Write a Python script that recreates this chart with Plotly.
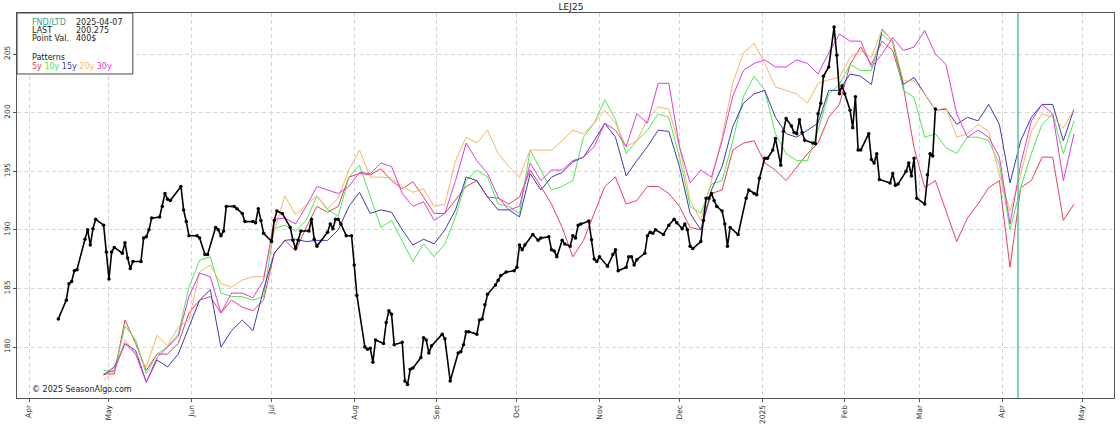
import pandas as pd
import plotly.graph_objects as go

# actual LEJ25 closes (black)
actual_dates = [
    "2024-04-12", "2024-04-15", "2024-04-16", "2024-04-17", "2024-04-18", "2024-04-19",
    "2024-04-22", "2024-04-23", "2024-04-24", "2024-04-25", "2024-04-26", "2024-04-29",
    "2024-04-30", "2024-05-01", "2024-05-02", "2024-05-03", "2024-05-06", "2024-05-07",
    "2024-05-08", "2024-05-09", "2024-05-10", "2024-05-13", "2024-05-14", "2024-05-15",
    "2024-05-16", "2024-05-17", "2024-05-20", "2024-05-21", "2024-05-22", "2024-05-23",
    "2024-05-24", "2024-05-28", "2024-05-29", "2024-05-30", "2024-05-31", "2024-06-03",
    "2024-06-04", "2024-06-06", "2024-06-07", "2024-06-10", "2024-06-11", "2024-06-12",
    "2024-06-13", "2024-06-14", "2024-06-17", "2024-06-18", "2024-06-20", "2024-06-21",
    "2024-06-24", "2024-06-25", "2024-06-26", "2024-06-27", "2024-06-28", "2024-07-01",
    "2024-07-02", "2024-07-03", "2024-07-05", "2024-07-08", "2024-07-09", "2024-07-10",
    "2024-07-11", "2024-07-12", "2024-07-15", "2024-07-16", "2024-07-17", "2024-07-18",
    "2024-07-22", "2024-07-23", "2024-07-24", "2024-07-25", "2024-07-26", "2024-07-27",
    "2024-07-29", "2024-07-31", "2024-08-01", "2024-08-02", "2024-08-05", "2024-08-06",
    "2024-08-07", "2024-08-08", "2024-08-09", "2024-08-12", "2024-08-13", "2024-08-14",
    "2024-08-15", "2024-08-16", "2024-08-19", "2024-08-20", "2024-08-21", "2024-08-22",
    "2024-08-23", "2024-08-26", "2024-08-27", "2024-08-28", "2024-08-29", "2024-08-30",
    "2024-09-03", "2024-09-04", "2024-09-06", "2024-09-09", "2024-09-10", "2024-09-11",
    "2024-09-12", "2024-09-13", "2024-09-16", "2024-09-17", "2024-09-18", "2024-09-19",
    "2024-09-20", "2024-09-23", "2024-09-24", "2024-09-25", "2024-09-27", "2024-09-30",
    "2024-10-01", "2024-10-02", "2024-10-03", "2024-10-04", "2024-10-07", "2024-10-09",
    "2024-10-10", "2024-10-13", "2024-10-14", "2024-10-15", "2024-10-16", "2024-10-18",
    "2024-10-19", "2024-10-21", "2024-10-22", "2024-10-23", "2024-10-24", "2024-10-25",
    "2024-10-28", "2024-10-29", "2024-10-30", "2024-10-31", "2024-11-01", "2024-11-04",
    "2024-11-06", "2024-11-07", "2024-11-08", "2024-11-11", "2024-11-12", "2024-11-13",
    "2024-11-14", "2024-11-15", "2024-11-18", "2024-11-19", "2024-11-20", "2024-11-21",
    "2024-11-22", "2024-11-25", "2024-11-27", "2024-11-29", "2024-11-30", "2024-12-02",
    "2024-12-03", "2024-12-04", "2024-12-05", "2024-12-06", "2024-12-09", "2024-12-10",
    "2024-12-11", "2024-12-12", "2024-12-13", "2024-12-14", "2024-12-15", "2024-12-17",
    "2024-12-18", "2024-12-19", "2024-12-20", "2024-12-23", "2024-12-26", "2024-12-27",
    "2024-12-29", "2024-12-30", "2024-12-31", "2025-01-02", "2025-01-03", "2025-01-05",
    "2025-01-06", "2025-01-08", "2025-01-09", "2025-01-10", "2025-01-12", "2025-01-13",
    "2025-01-14", "2025-01-15", "2025-01-16", "2025-01-17", "2025-01-20", "2025-01-21",
    "2025-01-22", "2025-01-23", "2025-01-24", "2025-01-26", "2025-01-28", "2025-01-29",
    "2025-01-30", "2025-01-31", "2025-02-01", "2025-02-03", "2025-02-04", "2025-02-05",
    "2025-02-06", "2025-02-07", "2025-02-10", "2025-02-11", "2025-02-12", "2025-02-13",
    "2025-02-14", "2025-02-18", "2025-02-19", "2025-02-20", "2025-02-21", "2025-02-24",
    "2025-02-25", "2025-02-26", "2025-02-27", "2025-02-28", "2025-03-03", "2025-03-04",
    "2025-03-05", "2025-03-06", "2025-03-07",
]
actual_close = [
    182.4, 184.0, 185.4, 185.6, 186.5, 186.6,
    189.2, 190.0, 188.7, 190.1, 190.9, 190.4,
    188.1, 185.8, 188.1, 188.5, 188.0, 188.9,
    187.6, 186.7, 187.3, 187.3, 189.3, 189.4,
    190.0, 191.0, 191.1, 192.0, 193.1, 192.6,
    192.5, 193.7, 191.7, 190.7, 189.5, 189.5,
    189.3, 187.9, 187.9, 190.2, 190.0, 189.5,
    189.9, 192.0, 192.0, 191.8, 191.4, 190.7,
    190.7, 190.6, 191.8, 190.8, 189.7, 189.0,
    190.8, 191.6, 191.4, 190.2, 189.1, 188.4,
    189.1, 189.9, 189.9, 190.9, 189.2, 188.6,
    189.8, 190.5, 190.1, 190.9, 190.9, 190.5,
    189.5, 189.5, 187.0, 184.4, 180.0, 179.8,
    179.9, 178.7, 180.6, 180.3, 182.1, 183.1,
    182.8, 180.2, 180.4, 177.1, 176.8, 178.1,
    178.2, 179.1, 180.8, 180.6, 179.5, 180.1,
    181.1, 180.7, 177.1, 179.5, 179.6, 180.2,
    181.3, 181.3, 181.1, 182.3, 182.4, 183.6,
    184.5, 185.3, 185.7, 186.1, 186.4, 186.5,
    186.8, 188.7, 188.3, 188.7, 189.6, 189.1,
    189.3, 189.4, 188.3, 188.2, 187.7, 189.1,
    188.8, 188.6, 189.5, 189.3, 190.4, 190.5,
    190.75, 189.15, 187.5, 187.3, 187.7, 186.9,
    187.9, 188.3, 186.5, 186.8, 187.7, 187.7,
    187.0, 187.45, 188.0, 189.5, 189.8, 189.7,
    190.0, 189.6, 190.4, 190.9, 190.6, 190.1,
    190.5, 190.0, 188.6, 188.4, 189.0, 190.8,
    192.7, 192.7, 193.1, 192.5, 192.0, 191.6,
    190.5, 188.6, 190.2, 189.6, 192.7, 193.4,
    193.1, 193.0, 194.4, 196.1, 196.1, 196.8,
    197.8, 195.5, 198.4, 199.5, 198.85, 198.3,
    198.2, 199.4, 198.3, 197.65, 197.4, 197.35,
    199.9, 200.8, 203.1, 203.9, 207.3, 204.9,
    201.6, 202.3, 201.6, 200.2, 198.7, 201.35,
    196.8, 196.8, 198.2, 196.0, 195.7, 196.5,
    194.3, 194.0, 194.8, 193.8, 193.9, 195.0,
    195.7, 194.6, 196.1, 192.7, 192.2, 194.7,
    196.5, 196.3, 200.3,
]

# seasonal patterns, sampled every 4 days from 2024-04-29 to 2025-04-28
pattern_dates = pd.date_range("2024-04-29", "2025-04-28", freq="4D")
pattern_5y = [
    177.7, 177.7, 182.3, 180.3, 178.0, 179.4, 179.4, 180.3, 182.9, 184.0,
    184.3, 182.9, 184.0, 183.4, 183.1, 184.0, 188.0, 189.1, 188.2, 190.2,
    192.0, 191.5, 192.0, 194.5, 194.8, 194.7, 195.2, 194.2, 193.5, 194.1,
    192.8, 191.4, 191.4, 192.5, 193.7, 194.2, 192.8, 192.7, 192.2, 192.8,
    195.1, 193.7, 192.2, 190.2, 187.7, 189.1, 191.4, 193.7, 194.5, 192.2,
    192.5, 193.7, 193.7, 193.1, 192.0, 190.2, 190.0, 193.1, 193.4, 196.8,
    197.4, 197.6, 195.7, 195.1, 194.2, 195.4, 196.5, 197.4, 199.6, 200.7,
    204.1, 205.6, 204.1, 206.1, 205.3, 202.2, 197.0, 193.6, 194.2, 191.6,
    189.0, 191.0, 192.2, 193.6, 194.2, 186.8, 193.6, 194.2, 196.2, 196.2,
    190.8, 192.2,
]
pattern_10y = [
    178.0, 177.9, 181.8, 180.6, 177.7, 179.4, 180.0, 181.1, 185.1, 187.4,
    187.7, 184.6, 184.3, 184.3, 184.0, 184.3, 190.1, 190.4, 189.9, 190.8,
    192.9, 191.7, 191.2, 194.5, 195.5, 192.8, 190.2, 190.8, 189.1, 187.3,
    188.8, 187.7, 188.8, 191.1, 194.2, 195.1, 194.5, 192.2, 192.0, 191.4,
    196.8, 195.1, 193.4, 193.7, 194.2, 197.9, 199.1, 201.1, 199.4, 196.5,
    197.6, 198.5, 199.9, 199.6, 196.2, 192.0, 191.4, 193.9, 194.2, 197.6,
    201.4, 203.1, 201.9, 198.2, 196.5, 195.9, 195.9, 198.5, 201.6, 202.4,
    204.1, 203.6, 203.6, 206.7, 205.9, 201.9, 201.3, 197.9, 198.2, 197.0,
    196.5, 197.9, 197.9, 197.6, 195.6, 190.0, 193.6, 196.5, 199.0, 199.9,
    196.5, 199.3,
]
pattern_15y = [
    177.6, 178.3, 180.3, 179.7, 177.0, 178.9, 178.3, 179.4, 181.7, 184.0,
    184.9, 180.0, 181.4, 182.3, 181.4, 184.9, 188.0, 189.1, 189.2, 189.0,
    189.1, 189.1, 190.0, 192.0, 193.2, 191.4, 191.7, 191.5, 190.0, 188.7,
    189.2, 188.8, 190.0, 191.7, 194.5, 194.2, 192.8, 191.7, 191.7, 191.1,
    194.8, 193.4, 194.5, 194.9, 195.8, 196.2, 197.6, 199.1, 197.9, 194.6,
    195.9, 197.1, 198.5, 198.4, 195.4, 191.4, 190.0, 193.4, 195.4, 198.8,
    200.8, 201.6, 201.9, 199.6, 198.2, 197.9, 198.5, 199.1, 201.9, 201.9,
    203.3, 203.1, 202.4, 207.1, 206.1, 202.4, 203.0, 201.6, 200.2, 200.3,
    199.0, 199.6, 199.3, 200.7, 199.0, 194.0, 197.6, 199.6, 200.7, 200.7,
    197.6, 200.3,
]
pattern_20y = [
    177.1, 178.0, 180.6, 179.4, 178.3, 181.0, 180.1, 181.7, 182.3, 186.4,
    187.0, 185.4, 185.1, 185.7, 186.0, 186.0, 189.9, 192.9, 191.3, 192.1,
    192.9, 191.8, 192.7, 195.1, 196.8, 194.5, 194.5, 194.4, 193.7, 193.2,
    193.5, 192.0, 192.2, 195.9, 197.9, 197.4, 198.5, 196.5, 195.4, 194.5,
    196.8, 196.8, 196.8, 197.6, 198.5, 198.2, 199.1, 200.2, 199.1, 197.1,
    197.6, 199.4, 200.5, 200.3, 197.1, 192.5, 190.8, 194.2, 197.9, 202.5,
    205.1, 205.9, 204.2, 202.2, 201.9, 201.6, 200.8, 202.5, 202.8, 203.0,
    204.7, 205.3, 204.7, 207.1, 206.1, 202.7, 202.7, 201.6, 200.2, 200.4,
    197.9, 198.2, 199.0, 198.4, 194.7, 191.6, 194.7, 198.4, 199.9, 199.6,
    198.7, 200.3,
]
pattern_30y = [
    177.7, 178.0, 180.3, 179.4, 177.0, 179.1, 180.0, 180.9, 184.3, 186.3,
    186.0, 182.9, 184.6, 184.6, 184.2, 185.7, 190.9, 191.0, 190.5, 192.0,
    193.7, 193.4, 193.1, 193.7, 194.9, 194.8, 195.7, 195.4, 193.1, 192.0,
    192.4, 190.8, 191.4, 194.2, 197.4, 195.9, 194.8, 192.8, 191.7, 192.0,
    195.7, 194.2, 195.1, 195.1, 195.9, 196.2, 197.1, 199.1, 198.5, 197.1,
    199.9, 199.1, 202.5, 202.5, 197.1, 194.0, 195.1, 194.5, 197.6, 201.4,
    203.6, 204.2, 204.5, 203.9, 203.9, 204.5, 204.2, 203.3, 205.1, 206.7,
    206.1, 206.1, 203.9, 205.0, 206.4, 205.3, 205.6, 207.0, 205.0, 204.1,
    199.9, 197.9, 198.5, 197.9, 196.2, 190.5, 195.6, 199.3, 200.7, 199.9,
    194.2, 198.2,
]

pattern_names = ["5y", "10y", "15y", "20y", "30y"]
pattern_colors = ["#e8405c", "#4ee84e", "#3c3cae", "#f7b466", "#dc3cdc"]

month_ticks = ["2024-04-01", "2024-05-01", "2024-06-01", "2024-07-01", "2024-08-01",
               "2024-09-01", "2024-10-01", "2024-11-01", "2024-12-01", "2025-01-01",
               "2025-02-01", "2025-03-01", "2025-04-01", "2025-05-01"]
month_labels = ["Apr", "May", "Jun", "Jul", "Aug", "Sep", "Oct", "Nov", "Dec", "2025",
                "Feb", "Mar", "Apr", "May"]
y_ticks = [180, 185, 190, 195, 200, 205]

fnd_ltd = "2025-04-07"
last_price = "200.275"
point_val = "400$"

FONT = "DejaVu Sans"

fig = go.Figure()
series = [pattern_5y, pattern_10y, pattern_15y, pattern_20y, pattern_30y]
for name, vals, col in zip(pattern_names, series, pattern_colors):
    fig.add_trace(go.Scatter(x=pattern_dates, y=vals, mode="lines", name=name,
                             line=dict(color=col, width=1)))

fig.add_trace(go.Scatter(x=pd.to_datetime(actual_dates), y=actual_close, mode="lines+markers",
                         name="LEJ25", line=dict(color="black", width=1.6),
                         marker=dict(color="black", size=3.5)))

# FND/LTD marker
fig.add_shape(type="line", xref="x", yref="paper", x0=fnd_ltd, x1=fnd_ltd, y0=0, y1=1,
              line=dict(color="#5cbf9c", width=1.5))

# info box top-left
fig.add_shape(type="rect", xref="paper", yref="paper", x0=0, x1=0.1056, y0=0.8416, y1=1,
              line=dict(color="#444", width=1), fillcolor="white", layer="above")

def note(x, y, text, color="#222"):
    fig.add_annotation(xref="paper", yref="paper", x=x, y=y, text=text, showarrow=False,
                       xanchor="left", yanchor="middle",
                       font=dict(family=FONT, size=8, color=color))

note(0.0118, 0.9758, "FND/LTD", "#2aa58c")
note(0.0519, 0.9758, fnd_ltd)
note(0.0118, 0.954, "LAST")
note(0.0519, 0.954, last_price)
note(0.0118, 0.9325, "Point Val.")
note(0.0519, 0.9325, point_val)
note(0.0118, 0.885, "Patterns")
note(0.0118, 0.862, " ".join(f'<span style="color:{c}">{n}</span>'
                             for n, c in zip(pattern_names, pattern_colors)))
note(0.0118, 0.0208, "© 2025 SeasonAlgo.com")

fig.update_layout(
    width=1120, height=427,
    margin=dict(l=17, r=6, t=13, b=29),
    paper_bgcolor="white", plot_bgcolor="white",
    showlegend=False,
    font=dict(family=FONT, size=8, color="#333"),
    title=dict(text="LEJ25", x=0.505, xref="paper", y=0.984, yanchor="middle",
               font=dict(family=FONT, size=9, color="#222")),
)
fig.update_xaxes(
    range=["2024-03-27 12:00", "2025-05-13"], automargin=False,
    tickvals=month_ticks, ticktext=month_labels, tickangle=-90,
    showgrid=True, gridcolor="#d4d4d4", griddash="4px,3px", gridwidth=1,
    showline=True, linecolor="#555", linewidth=1, mirror=True,
    ticks="outside", ticklen=3, tickcolor="#555", zeroline=False,
    tickfont=dict(family=FONT, size=7.5, color="#333"),
)
fig.update_yaxes(
    range=[175.65, 208.5], automargin=False,
    tickvals=y_ticks, tickangle=-90,
    showgrid=True, gridcolor="#d4d4d4", griddash="4px,3px", gridwidth=1,
    showline=True, linecolor="#555", linewidth=1, mirror=True,
    ticks="outside", ticklen=3, tickcolor="#555", zeroline=False,
    tickfont=dict(family=FONT, size=7.5, color="#333"),
)

# drop the browser's default page margin so the figure sits at the window's corner
fig.write_html("out.html", config={"displayModeBar": False},
               post_script="document.body.style.margin='0';")
